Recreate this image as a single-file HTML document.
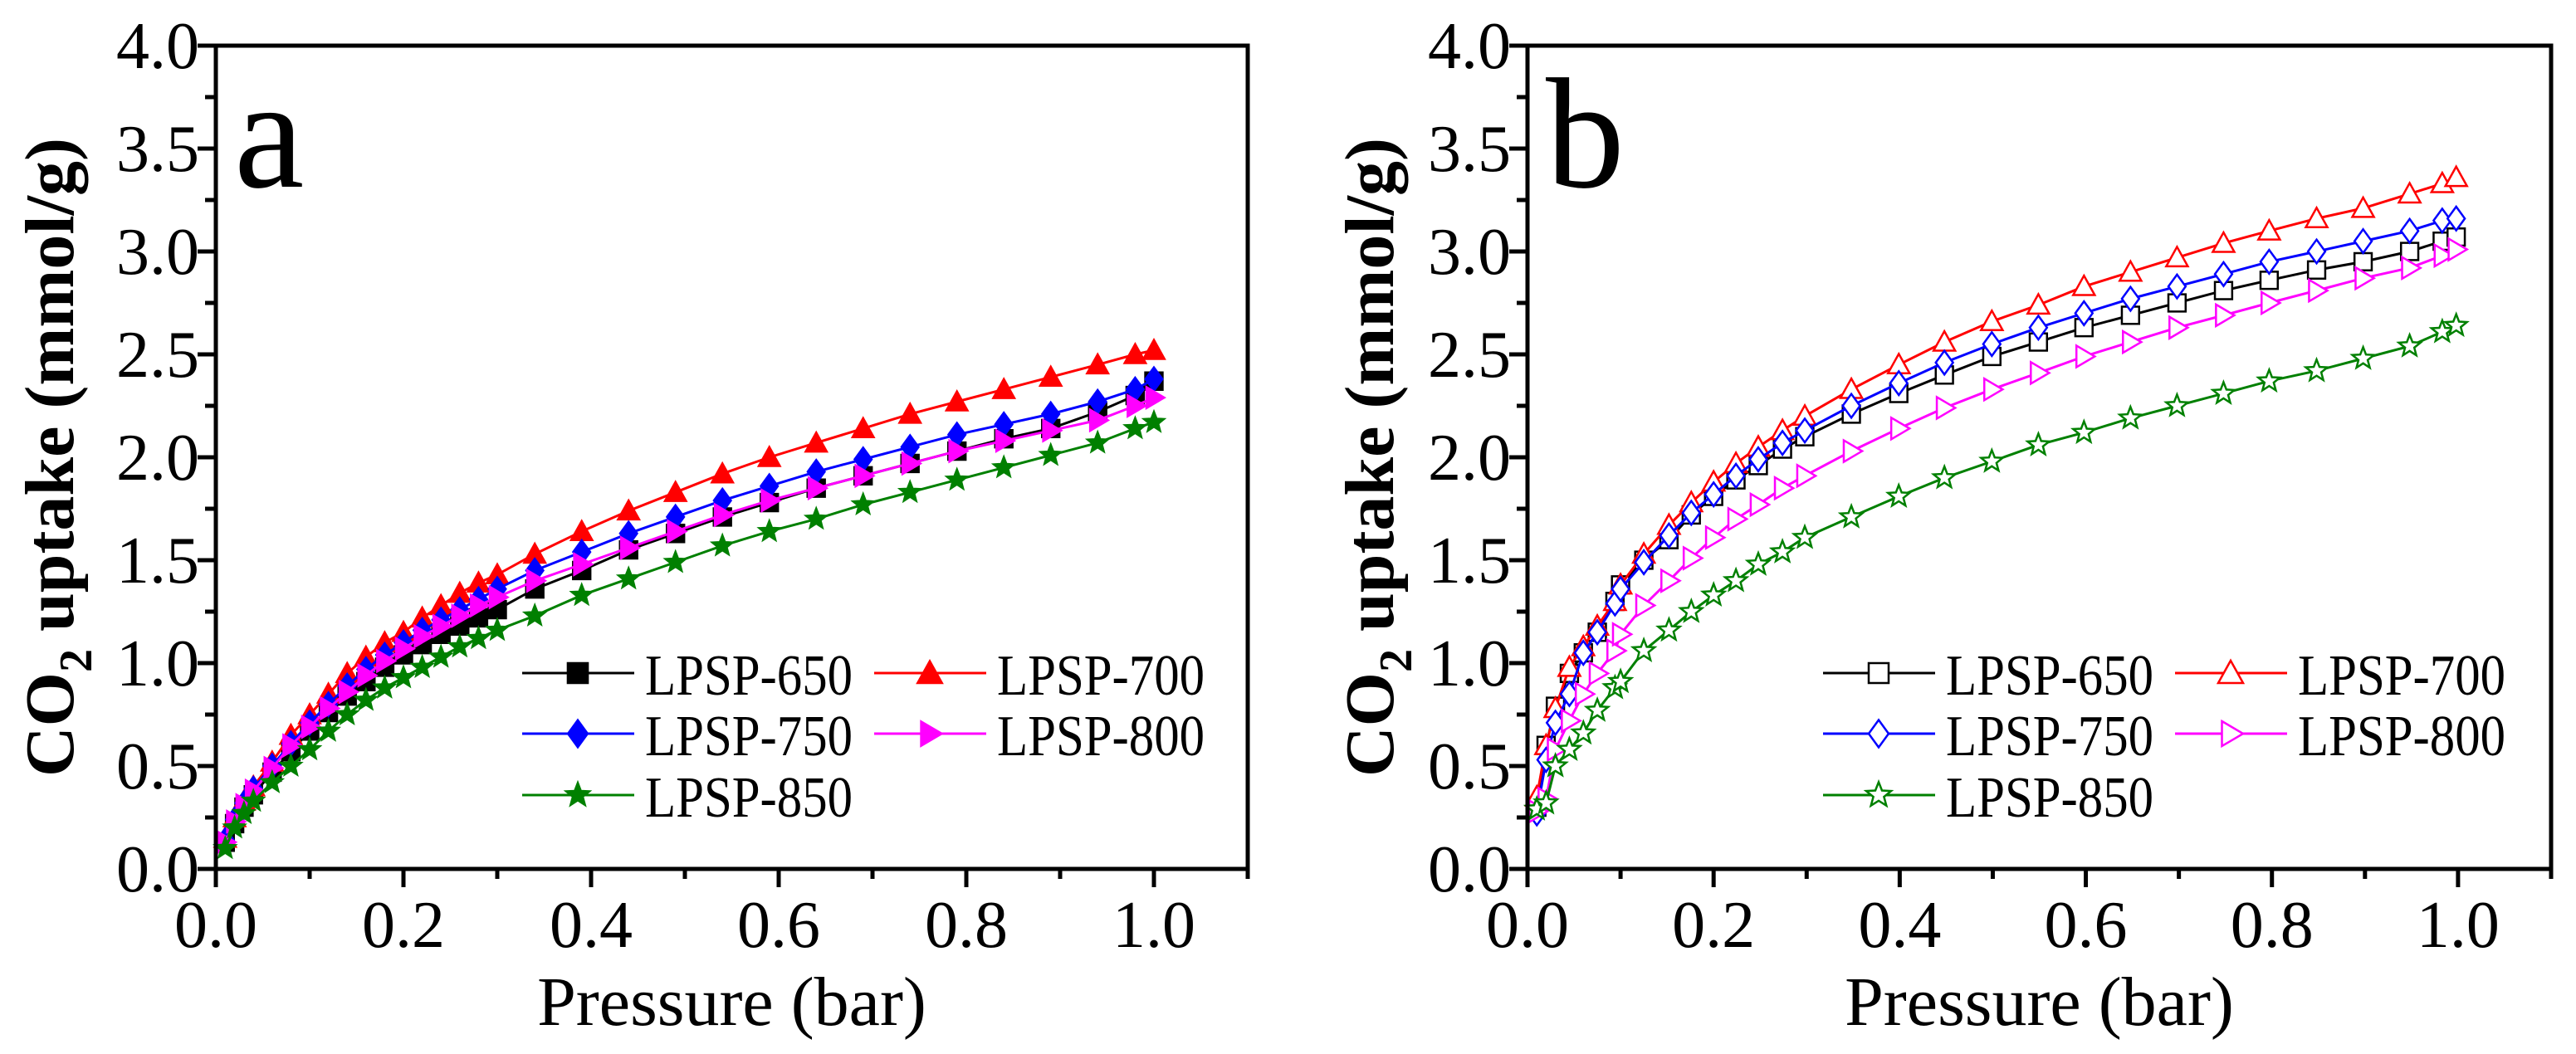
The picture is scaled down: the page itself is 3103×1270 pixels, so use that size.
<!DOCTYPE html>
<html><head><meta charset="utf-8"><style>
html,body{margin:0;padding:0;background:#fff;}
svg, svg text, svg tspan{font-family:"Liberation Serif","Times New Roman",Times,serif !important;}
</style></head><body>
<svg id="chart" width="3103" height="1265" viewBox="0 0 3103 1265" font-family="Liberation Serif, Times New Roman, serif" xmlns="http://www.w3.org/2000/svg"></svg>
<script>
// ---------- data ----------
const yTicks = [0,0.5,1,1.5,2,2.5,3,3.5,4];
const yTickLabels = ["0.0","0.5","1.0","1.5","2.0","2.5","3.0","3.5","4.0"];
const xTicks = [0,0.2,0.4,0.6,0.8,1.0];
const xTickLabels = ["0.0","0.2","0.4","0.6","0.8","1.0"];
const seriesNames = ["LPSP-650","LPSP-700","LPSP-750","LPSP-800","LPSP-850"];

const aX = [0.01,0.02,0.03,0.04,0.06,0.08,0.1,0.12,0.14,0.16,0.18,0.2,0.22,0.24,0.26,0.28,0.3,0.34,0.39,0.44,0.49,0.54,0.59,0.64,0.69,0.74,0.79,0.84,0.89,0.94,0.98,1.0];
const a650 = [0.13,0.22,0.30,0.36,0.47,0.57,0.67,0.76,0.84,0.91,0.98,1.04,1.09,1.14,1.18,1.22,1.26,1.36,1.45,1.55,1.63,1.71,1.78,1.85,1.91,1.97,2.03,2.09,2.14,2.22,2.30,2.37];
const a700 = [0.15,0.25,0.33,0.40,0.52,0.65,0.75,0.85,0.95,1.03,1.10,1.15,1.22,1.28,1.34,1.39,1.43,1.53,1.64,1.74,1.83,1.92,2.00,2.07,2.14,2.21,2.27,2.33,2.39,2.45,2.50,2.52];
const a750 = [0.14,0.24,0.32,0.39,0.50,0.61,0.71,0.80,0.89,0.97,1.04,1.10,1.16,1.21,1.26,1.31,1.36,1.45,1.54,1.63,1.71,1.79,1.86,1.93,1.99,2.05,2.11,2.16,2.21,2.27,2.33,2.38];
const a800 = [0.13,0.23,0.31,0.38,0.49,0.60,0.69,0.78,0.86,0.94,1.01,1.07,1.13,1.18,1.23,1.28,1.32,1.40,1.48,1.56,1.64,1.72,1.79,1.85,1.91,1.97,2.03,2.08,2.13,2.18,2.25,2.29];
const a850 = [0.10,0.20,0.27,0.33,0.42,0.50,0.58,0.67,0.75,0.82,0.88,0.93,0.98,1.03,1.08,1.12,1.16,1.23,1.33,1.41,1.49,1.57,1.64,1.70,1.77,1.83,1.89,1.95,2.01,2.07,2.14,2.17];

const bX = [0.01,0.02,0.03,0.045,0.06,0.075,0.094,0.1,0.125,0.152,0.176,0.2,0.224,0.248,0.274,0.298,0.348,0.399,0.448,0.499,0.549,0.598,0.648,0.698,0.748,0.797,0.848,0.898,0.948,0.983,0.998];
const b650 = [0.30,0.60,0.79,0.95,1.05,1.15,1.30,1.38,1.50,1.60,1.72,1.81,1.89,1.96,2.04,2.10,2.21,2.31,2.40,2.49,2.56,2.63,2.69,2.75,2.81,2.86,2.91,2.95,3.00,3.05,3.07];
const b700 = [0.35,0.60,0.78,0.98,1.08,1.18,1.30,1.38,1.53,1.67,1.78,1.88,1.97,2.05,2.13,2.20,2.33,2.45,2.56,2.66,2.74,2.83,2.90,2.97,3.04,3.10,3.16,3.21,3.28,3.33,3.36];
const b750 = [0.27,0.53,0.71,0.85,1.05,1.15,1.29,1.36,1.49,1.62,1.73,1.82,1.91,1.99,2.07,2.13,2.25,2.36,2.46,2.55,2.63,2.70,2.77,2.83,2.89,2.95,3.00,3.05,3.10,3.15,3.16];
const b800 = [0.28,0.34,0.58,0.72,0.85,0.95,1.06,1.14,1.28,1.40,1.51,1.61,1.70,1.77,1.85,1.91,2.03,2.14,2.24,2.33,2.41,2.49,2.56,2.63,2.69,2.75,2.81,2.87,2.92,2.98,3.01];
const b850 = [0.29,0.32,0.50,0.58,0.66,0.77,0.88,0.91,1.06,1.16,1.25,1.33,1.40,1.48,1.54,1.61,1.71,1.81,1.90,1.98,2.06,2.12,2.19,2.25,2.31,2.37,2.42,2.48,2.54,2.61,2.64];

// ---------- helpers ----------
const NS = "http://www.w3.org/2000/svg";
const svg = document.getElementById("chart");
const FONT = "Liberation Serif, Times New Roman, serif";
function mk(tag, attrs, parent){
  const e = document.createElementNS(NS, tag);
  for (const k in attrs) e.setAttribute(k, attrs[k]);
  if (tag === "text") e.setAttribute("font-family", FONT);
  (parent||svg).appendChild(e);
  return e;
}
const colors = ["#000000","#ff0000","#0000ff","#ff00ff","#008000"];
const shapes = ["square","triangle","diamond","rtriangle","star"];

function markerPath(shape, cx, cy, s){
  const h = s/2;
  if (shape==="square") return `M${cx-h*0.8},${cy-h*0.8}h${1.6*h}v${1.6*h}h${-1.6*h}Z`;
  if (shape==="triangle") return `M${cx},${cy-h}L${cx+h},${cy+h*0.8}L${cx-h},${cy+h*0.8}Z`;
  if (shape==="diamond") return `M${cx},${cy-h*1.1}L${cx+h*0.8},${cy}L${cx},${cy+h*1.1}L${cx-h*0.8},${cy}Z`;
  if (shape==="rtriangle") return `M${cx-h*0.7},${cy-h}L${cx+h},${cy}L${cx-h*0.7},${cy+h}Z`;
  let d = "";
  for (let i=0;i<10;i++){
    const r = i%2===0 ? h*1.05 : h*0.45;
    const a = -Math.PI/2 + i*Math.PI/5;
    d += (i===0?"M":"L") + (cx + r*Math.cos(a)).toFixed(1) + "," + (cy + r*Math.sin(a)).toFixed(1);
  }
  return d + "Z";
}

function panel(cfg){
  const g = mk("g", {});
  
  
  const L = cfg.left, R = cfg.right, T = 55, B = 1047;
  const xs = v => L + v/1.1*(R-L);
  const ys = v => B - v/4*(B-T);

  for (let v=0; v<=1.1001; v+=0.1){
    const major = Math.abs(Math.round(v*10)%2)===0;
    const t = mk("line", {x1:xs(v), x2:xs(v), y1:B, y2:B+(major?22:12), stroke:"#000","stroke-width":5}, g);
    
    
  }
  for (let v=0; v<=4.001; v+=0.25){
    const major = Math.abs(Math.round(v*4)%2)===0;
    const t = mk("line", {x1:L, x2:L-(major?22:13), y1:ys(v), y2:ys(v), stroke:"#000","stroke-width":5}, g);
    
    
  }
  xTicks.forEach((v,i)=>{
    const t = mk("text", {x:xs(v), y:B+94, "font-size":80, "text-anchor":"middle"}, g);
    t.textContent = xTickLabels[i];
    
    
  });
  yTicks.forEach((v,i)=>{
    const t = mk("text", {x:L-20, y:ys(v)+27, "font-size":80, "text-anchor":"end"}, g);
    t.textContent = yTickLabels[i];
    
    
  });

  const clip = mk("g", {}, g);
  cfg.series.forEach((ys_, si)=>{
    const sg = mk("g", {}, clip);
    
    
    const pts = cfg.x.map((xv,i)=>xs(xv).toFixed(1)+","+ys(ys_[i]).toFixed(1)).join(" ");
    const pl = mk("polyline", {points:pts, fill:"none", stroke:colors[si], "stroke-width":3}, sg);
    
    
    cfg.x.forEach((xv,i)=>{
      const m = mk("path", {d:markerPath(shapes[si], xs(xv), ys(ys_[i]), cfg.ms),
        fill: cfg.open ? "#fff" : colors[si], stroke: colors[si], "stroke-width": cfg.open?2.5:1}, sg);
      
      
    });
  });

  const f = mk("rect", {x:L, y:T, width:R-L, height:B-T, fill:"none", stroke:"#000", "stroke-width":5}, g);
  
  

  const lx = [cfg.legX, cfg.legX+424], ly = [811, 884, 958];
  seriesNames.forEach((n,si)=>{
    const col = si===4 ? 0 : si%2, row = si===4 ? 2 : Math.floor(si/2);
    const lg = mk("g", {}, g);
    
    
    const x0 = lx[col], y0 = ly[row];
    mk("line", {x1:x0, x2:x0+135, y1:y0, y2:y0, stroke:colors[si], "stroke-width":3}, lg);
    mk("path", {d:markerPath(shapes[si], x0+67, y0, cfg.ms+4), fill: cfg.open?"#fff":colors[si], stroke:colors[si], "stroke-width":cfg.open?2.5:1}, lg);
    const t = mk("text", {x:x0+148, y:y0+26, "font-size":70, textLength:250, lengthAdjust:"spacingAndGlyphs"}, lg);
    t.textContent = n;
  });

  const pl = mk("text", {x:L+22, y:225, "font-size":190}, g);
  pl.textContent = cfg.letter;
  
  

  const xt = mk("text", {x:(L+R)/2, y:1235, "font-size":84, "text-anchor":"middle"}, g);
  xt.textContent = "Pressure (bar)";
  
  
  const yt = mk("text", {x:0, y:0, "font-size":84, "font-weight":"bold", "text-anchor":"middle",
    transform:`translate(${cfg.yTitleX},${(T+B)/2}) rotate(-90)`}, g);
  yt.innerHTML = 'CO<tspan font-size="56" dy="22">2</tspan><tspan dy="-22"> uptake (mmol/g)</tspan>';
  
  
}

panel({name:"panel-a", letter:"a", left:260, right:1503, x:aX, series:[a650,a700,a750,a800,a850],
  open:false, ms:28, legX:629, yTitleX:88});
panel({name:"panel-b", letter:"b", left:1840, right:3073, x:bX, series:[b650,b700,b750,b800,b850],
  open:true, ms:26, legX:2196, yTitleX:1678});
</script>
</body></html>
